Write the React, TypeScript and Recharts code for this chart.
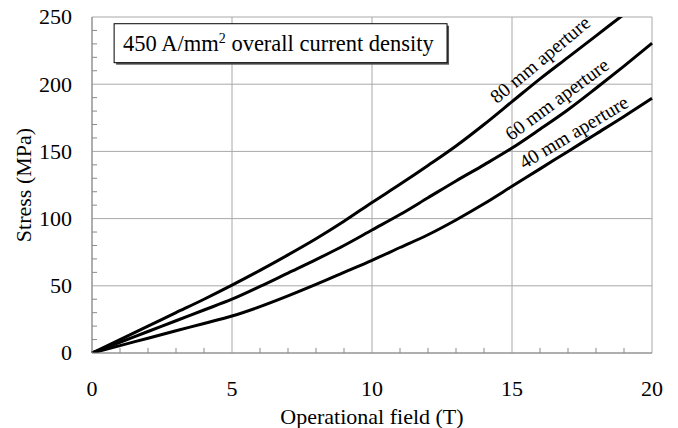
import React from 'react';
import {
  LineChart,
  Line,
  XAxis,
  YAxis,
  CartesianGrid,
  ReferenceDot,
  ReferenceArea,
  ReferenceLine,
} from 'recharts';

// Operational field (T)
const fieldT = [0, 1, 2, 3, 4, 5, 6, 7, 8, 9, 10, 11, 12, 13, 14, 15, 16, 17, 18, 19, 20];
// Stress (MPa) for each aperture
const stress80 = [0, 10, 20, 30, 40, 50.5, 61.5, 73, 85, 98, 112, 125.5, 139.5, 154, 170, 187, 204, 220, 236, 252, 268];
const stress60 = [0, 8, 16, 24, 32, 40, 49.5, 59.5, 69.5, 80, 91.5, 103, 115.5, 128, 140, 152.5, 166.5, 181, 197, 213.5, 230.5];
const stress40 = [0, 5.5, 11, 16.5, 22, 27.5, 34.5, 42.5, 51, 60, 69, 78.5, 88, 99, 111, 124, 137, 150, 163, 176, 189.5];

const xMajorTicks = [0, 5, 10, 15, 20];
const yMajorTicks = [0, 50, 100, 150, 200, 250];
const xMinorTicks = [1, 2, 3, 4, 6, 7, 8, 9, 11, 12, 13, 14, 16, 17, 18, 19];
const yMinorTicks = [10, 20, 30, 40, 60, 70, 80, 90, 110, 120, 130, 140, 160, 170, 180, 190, 210, 220, 230, 240];

const xTitle = 'Operational field (T)';
const yTitle = 'Stress (MPa)';
const boxText = ['450 A/mm', '2', ' overall current density'];
const labels80 = '80 mm aperture';
const labels60 = '60 mm aperture';
const labels40 = '40 mm aperture';

const data = fieldT.map((t, i) => ({ t, s80: stress80[i], s60: stress60[i], s40: stress40[i] }));

const FONT = '"Liberation Serif", "Times New Roman", serif';
const AXIS_GRAY = '#8a8a8a';
const GRID_GRAY = '#a8a8a8';
// minor tick length expressed in axis units (~5px)
const X_MINOR_LEN = 0.18;
const Y_MINOR_LEN = 3.8;

const XTick = (props: any) => {
  const { x, y, payload } = props;
  return (
    <text x={x} y={y} dy="0.71em" textAnchor="middle" fontFamily={FONT} fontSize={22} fill="#000">
      {payload.value}
    </text>
  );
};

const YTick = (props: any) => {
  const { x, y, payload } = props;
  return (
    <text x={x} y={y} dy="0.34em" textAnchor="end" fontFamily={FONT} fontSize={22} fill="#000">
      {payload.value}
    </text>
  );
};

const curveLabel = (text: string, angle: number) => (p: any) => {
  const cx = p.cx;
  const cy = p.cy;
  return (
    <text
      x={cx}
      y={cy}
      dy="0.35em"
      textAnchor="middle"
      fontFamily={FONT}
      fontSize={19.5}
      fill="#000"
      transform={`rotate(${-angle} ${cx} ${cy})`}
    >
      {text}
    </text>
  );
};

const BoxShape = (p: any) => {
  const { x, y, width, height } = p;
  return (
    <g>
      <rect x={x + 2} y={y + 2} width={width} height={height} fill="#555" />
      <rect x={x} y={y} width={width} height={height} fill="#fff" stroke="#000" strokeWidth={1} />
      <text x={x + 9} y={y + 27} fontFamily={FONT} fontSize={22.5} fill="#000">
        {boxText[0]}
        <tspan fontSize={14} dy={-8}>{boxText[1]}</tspan>
        <tspan dy={8}>{boxText[2]}</tspan>
      </text>
    </g>
  );
};

export default function App() {
  return (
    <div style={{ position: 'absolute', left: 0, top: 0, width: 678, height: 428, background: '#fff' }}>
      <LineChart
        width={678}
        height={428}
        data={data}
        margin={{ top: 17, right: 26, bottom: 15, left: 0 }}
      >
        <CartesianGrid
          stroke={GRID_GRAY}
          strokeWidth={1}
          horizontalValues={yMajorTicks}
          verticalValues={xMajorTicks}
        />
        {xMinorTicks.map((v) => (
          <ReferenceLine
            key={`xm${v}`}
            segment={[{ x: v, y: 0 }, { x: v, y: Y_MINOR_LEN }]}
            stroke={AXIS_GRAY}
            strokeWidth={1}
          />
        ))}
        {yMinorTicks.map((v) => (
          <ReferenceLine
            key={`ym${v}`}
            segment={[{ x: 0, y: v }, { x: X_MINOR_LEN, y: v }]}
            stroke={AXIS_GRAY}
            strokeWidth={1}
          />
        ))}
        <XAxis
          dataKey="t"
          type="number"
          domain={[0, 20]}
          ticks={xMajorTicks}
          interval={0}
          height={60}
          tickSize={0}
          tickLine={false}
          tickMargin={27}
          stroke={AXIS_GRAY}
          tick={<XTick />}
          label={{
            content: (p: any) => {
              const vb = p.viewBox || { x: 92, y: 353, width: 560, height: 60 };
              return (
                <text x={vb.x + vb.width / 2} y={424} textAnchor="middle" fontFamily={FONT} fontSize={22} fill="#000">
                  {xTitle}
                </text>
              );
            },
          }}
        />
        <YAxis
          type="number"
          domain={[0, 250]}
          allowDataOverflow
          ticks={yMajorTicks}
          interval={0}
          width={92}
          tickSize={0}
          tickLine={false}
          tickMargin={20}
          stroke={AXIS_GRAY}
          tick={<YTick />}
          label={{
            content: (p: any) => {
              const vb = p.viewBox || { x: 0, y: 17, width: 92, height: 336 };
              const cx = 23;
              const cy = vb.y + vb.height / 2;
              return (
                <text
                  x={cx}
                  y={cy}
                  dy="0.35em"
                  textAnchor="middle"
                  fontFamily={FONT}
                  fontSize={22}
                  fill="#000"
                  transform={`rotate(-90 ${cx} ${cy})`}
                >
                  {yTitle}
                </text>
              );
            },
          }}
        />
        <ReferenceArea x1={0.79} x2={12.68} y1={216} y2={245} shape={BoxShape} />
        <Line type="monotone" dataKey="s80" stroke="#000" strokeWidth={3} dot={false} isAnimationActive={false} />
        <Line type="monotone" dataKey="s60" stroke="#000" strokeWidth={3} dot={false} isAnimationActive={false} />
        <Line type="monotone" dataKey="s40" stroke="#000" strokeWidth={3} dot={false} isAnimationActive={false} />
        <ReferenceDot x={16.0} y={218.5} r={0} shape={curveLabel(labels80, 40)} />
        <ReferenceDot x={16.6} y={189} r={0} shape={curveLabel(labels60, 36.5)} />
        <ReferenceDot x={17.2} y={164.5} r={0} shape={curveLabel(labels40, 31)} />
      </LineChart>
    </div>
  );
}
